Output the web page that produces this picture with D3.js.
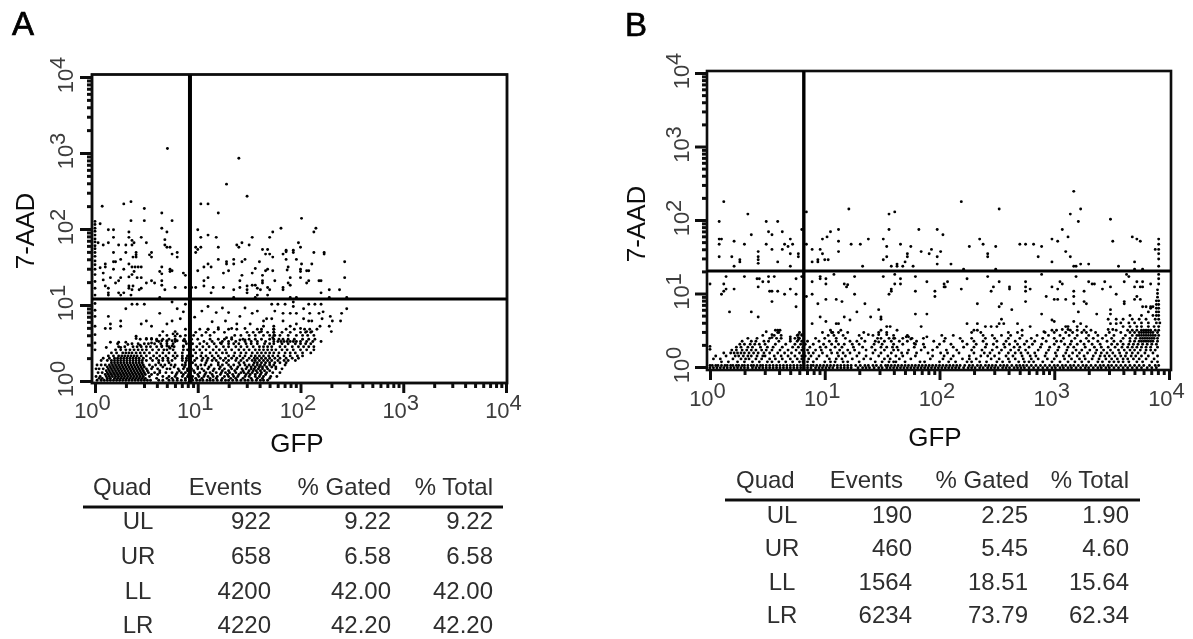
<!DOCTYPE html>
<html>
<head>
<style>
  html, body { margin: 0; background: #fff; }
  svg { display: block; }
  text { font-family: "Liberation Sans", Arial, sans-serif; }
  .axis path { display: none; }
  .axis line { stroke: #111; stroke-width: 3; }
  .tick-label { font-size: 22px; fill: #3c3c3c; }
  .title { font-size: 26px; fill: #111; }
  .letter { font-size: 33px; fill: #000; stroke: #000; stroke-width: .7; }
  .cell { font-size: 24px; fill: #2e2e2e; }
</style>
<script src="https://d3js.org/d3.v7.min.js"></script>
</head>
<body>
<svg width="1193" height="639"></svg>
<script>
// tick decades and table text
var decades = [0, 1, 2, 3, 4];
var tableHead = ["Quad", "Events", "% Gated", "% Total"];
var quadNames = ["UL", "UR", "LL", "LR"];
var eventsA = ["922", "658", "4200", "4220"];
var gatedA = ["9.22", "6.58", "42.00", "42.20"];
var totalA = ["9.22", "6.58", "42.00", "42.20"];
var eventsB = ["190", "460", "1564", "6234"];
var gatedB = ["2.25", "5.45", "18.51", "73.79"];
var totalB = ["1.90", "4.60", "15.64", "62.34"];

// quadrant gates, GFP and 7-AAD
var gateA = [8.4, 12];
var gateB = [6.57, 20.2];

// events, as log10 [GFP, 7-AAD]
var sparseA = [[.705,3.06],[1.4,2.93],[1.28,2.59],[1.48,2.43],[.07,2.3],[.28,2.33],[.35,2.36],[1.03,2.33],[1.1,2.33],[.48,2.27],[.65,2.21],[1.2,2.21],[2.01,2.14],[.35,2.11],[.48,2.11],[.75,2.11],[.05,2.07],[.65,2.01],[1.81,2.01],[2.15,2.01],[.13,1.99],[.18,1.99],[.33,1.96],[.7,1.96],[1,1.99],[2.13,1.96],[1.73,1.96],[.18,1.89],[.33,1.89],[.45,1.89],[1.03,1.89],[1.1,1.92],[1.18,1.89],[1.53,1.89],[1.7,1.89],[.68,1.86],[.03,1.82],[.13,1.82],[.5,1.82],[.08,1.79],[.23,1.79],[.3,1.79],[.36,1.85],[.36,1.79],[.38,1.82],[.68,1.79],[.7,1.76],[.73,1.76],[1.38,1.79],[1.4,1.76],[1.43,1.82],[1.5,1.79],[1.98,1.82],[2,1.76],[1.2,1.76],[.92,1.76],[.98,1.76],[1,1.73],[1.03,1.76],[.98,1.69],[1.63,1.73],[1.68,1.73],[1.86,1.72],[1.86,1.7],[1.93,1.72],[1.93,1.69],[.18,1.69],[.3,1.69],[.55,1.69],[.53,1.66],[.55,1.63],[.8,1.69],[.8,1.63],[1.66,1.67],[1.7,1.67],[1.73,1.63],[1.83,1.67],[.75,1.67],[2.13,1.69],[2.23,1.69],[2.23,1.67],[.4,1.69],[.4,1.66],[.37,1.63],[.4,1.63],[.25,1.6],[.18,1.57],[.2,1.57],[1.2,1.6],[1.35,1.6],[1.35,1.54],[1.28,1.57],[1.28,1.54],[1.46,1.6],[1.43,1.57],[1.6,1.57],[1.86,1.6],[1.96,1.6],[2.01,1.54],[2.11,1.54],[2.43,1.57],[.1,1.54],[.1,1.5],[.05,1.49],[.33,1.54],[.36,1.5],[.39,1.5],[.42,1.5],[.45,1.5],[.18,1.47],[.28,1.47],[.65,1.5],[1.06,1.5],[1.1,1.54],[1.13,1.5],[1.88,1.5],[1.87,1.46],[1.56,1.48],[.63,1.44],[.65,1.41],[.73,1.47],[.73,1.44],[.75,1.45],[1,1.45],[1.25,1.42],[1.3,1.45],[1.66,1.45],[1.68,1.47],[1.73,1.45],[1.53,1.42],[2,1.47],[2,1.44],[2.06,1.45],[2.08,1.45],[.08,1.42],[.38,1.44],[.36,1.4],[.33,1.37],[.86,1.42],[.88,1.39],[.15,1.36],[.08,1.33],[.25,1.36],[.23,1.32],[.2,1.29],[.41,1.36],[.45,1.36],[1.06,1.32],[1.1,1.36],[1.43,1.39],[1.63,1.39],[1.63,1.32],[1.63,1.29],[1.75,1.32],[1.9,1.36],[1.88,1.29],[1.9,1.26],[2,1.36],[2.08,1.32],[2.06,1.29],[2.18,1.32],[2.2,1.32],[2.43,1.36],[.5,1.29],[.55,1.32],[.58,1.29],[.65,1.32],[.65,1.26],[1.41,1.32],[.1,1.25],[.13,1.22],[.33,1.25],[.37,1.25],[.33,1.22],[.36,1.2],[.45,1.22],[.43,1.2],[.78,1.23],[.88,1.23],[.94,1.23],[.98,1.23],[1.06,1.25],[1.15,1.23],[1.25,1.23],[1.35,1.2],[1.41,1.23],[1.48,1.25],[1.53,1.26],[1.56,1.26],[1.58,1.22],[1.61,1.2],[1.48,1.2],[1.48,1.16],[1.68,1.23],[1.7,1.2],[1.83,1.23],[1.83,1.2],[.13,1.16],[.13,1.13],[.23,1.16],[.25,1.13],[.28,1.16],[.35,1.13],[.68,1.2],[1.13,1.16],[2.2,1.16],[2.28,1.2],[2.38,1.2],[1.35,1.1],[1.58,1.13],[1.56,1.1],[1.68,1.13],[1.9,1.1],[1.96,1.1],[2.28,1.1],[2.45,1.1],[.63,1.1],
[0,2.1],[0,2.06],[0,2.01],[0,1.97],[0,1.92],[0,1.87],[0,1.83],[0,1.78],[0,1.74],[0,1.69],[0,1.64],[0,1.58],[0,1.53],[0,1.47],[0,1.4],[0,1.31],[0,1.22],[0,1.13],[0,1.02],[0,.93],[0,.85],[0,.72],[0,.61],[0,.5],
[.36,1.01],[.41,1.01],[.48,1.01],[.75,1.04],[.88,1.01],[.3,.95],[.8,.95],[.86,.91],[.63,.89],[.13,.85],[.15,.75],[.25,.79],[.25,.72],[.45,.75],[.5,.79],[.55,.72],[.7,.75],[.75,.79],[.83,.82],[.1,.69],[.15,.69],[.63,.6],[.66,.65],[.7,.6],[.78,.65],[.76,.62],[.8,.62],[.83,.59],[.78,.59],[.4,.56],[.4,.59],[.5,.56],[.55,.56],[.55,.5],[.15,.51],[.23,.51],[.3,.51],[.11,.44],[.25,.44],[.32,.48],[.44,.47],[.6,.53],[.65,.53],[.65,.46],[.7,.53],[.75,.53],[.7,.46],[.75,.46],[.73,.43],[.8,.53],[.86,.53],[.86,.46],[0,.41],
[1.72,1.01],[1.78,1.01],[1.85,1.01],[1.93,1.04],[1.93,.98],[2.08,1.01],[2.14,1.01],[2.2,1.01],[1.75,.92],[1.83,.89],[1.9,.89],[1.96,.89],[2.03,.95],[2.09,.89],[2.18,.89],[2.22,.91],[2.29,.85],[2.4,.89],[2.45,.95],[1.41,.85],[1.53,.89],[1.67,.82],[1.72,.82],[1.64,.79],[1.51,.75],[1.83,.79],[1.9,.72],[1.96,.75],[2.03,.82],[2.08,.79],[2.11,.79],[2.21,.82],[2.31,.79],[2.39,.79],[1.27,.79],[1.38,.75],[1.33,.69],[1.46,.69],[1.64,.72],[1.62,.65],[1.74,.72],[2.19,.72],[2.28,.72],[2.3,.65],[2.11,.65],[2.06,.65],[2,.69],[1.22,.5],[1.28,.57],[1.33,.57],[1.41,.54],[1.46,.54],[1.74,.68],[1.74,.64],[1.75,.6],[1.73,.57],[1.04,.92],[1.1,.98],[1.18,.9],[1.24,.96],[.97,.84],[1.14,.78],[1.3,.9],[1.46,.96],[1.58,.92],[1.2,.7],[1.1,.68]];

// the dense lower part of panel A, row by row: [7-AAD, [GFP, ...]]
var rowsA = [
[.01,[.02,.06,.09,.12,.15,.18,.21,.24,.27,.3,.33,.36,.39,.42,.45,.48,.51,.54,.62,.66,.72,.76,.8,.84,.88,.92,.95,.99,1.02,1.05,1.09,1.12,1.15,1.19,1.23,1.27,1.3,1.34,1.38,1.42,1.46,1.49,1.53,1.57,1.61,1.64,1.68]],
[.035,[.04,.07,.12,.15,.19,.22,.25,.28,.31,.34,.37,.4,.43,.46,.49,.6,.7,.75,.8,.88,.94,.98,1.04,1.12,1.18,1.24,1.32,1.37,1.44,1.52,1.58,1.63,1.7]],
[.06,[.01,.05,.11,.14,.17,.2,.23,.26,.29,.32,.35,.38,.41,.44,.47,.53,.66,.72,.78,.85,.9,.95,1.01,1.06,1.1,1.15,1.19,1.26,1.3,1.35,1.39,1.46,1.5,1.56,1.6,1.64,1.71,1.77]],
[.085,[.1,.13,.16,.19,.22,.25,.28,.31,.34,.37,.4,.43,.46,.49,.55,.61,.79,.86,.91,1.0,1.07,1.14,1.22,1.29,1.34,1.4,1.47,1.51,1.56,1.61,1.66]],
[.11,[.03,.07,.12,.15,.18,.21,.24,.27,.3,.33,.36,.39,.42,.45,.48,.52,.58,.63,.69,.75,.8,.84,.88,.92,.97,1.02,1.08,1.12,1.18,1.23,1.27,1.31,1.37,1.42,1.45,1.49,1.53,1.58,1.62,1.67,1.73,1.8]],
[.135,[.11,.14,.17,.2,.23,.26,.29,.32,.35,.38,.41,.44,.47,.51,.63,.82,.9,.96,1.06,1.15,1.24,1.3,1.36,1.44,1.5,1.54,1.57,1.61,1.65,1.7]],
[.16,[.01,.04,.08,.13,.16,.19,.22,.25,.28,.31,.34,.37,.4,.43,.46,.5,.55,.61,.7,.73,.81,.86,.9,.94,1,1.04,1.1,1.16,1.21,1.26,1.33,1.38,1.43,1.47,1.52,1.55,1.59,1.63,1.68,1.76,1.82]],
[.185,[.12,.15,.18,.21,.24,.27,.3,.33,.36,.39,.42,.45,.48,.56,.66,.77,.87,1.0,1.11,1.22,1.32,1.39,1.48,1.52,1.56,1.6,1.63,1.67,1.72,1.76]],
[.21,[.02,.06,.1,.14,.17,.2,.23,.26,.29,.32,.35,.38,.41,.44,.47,.53,.59,.64,.68,.74,.78,.85,.88,.92,.98,1.03,1.07,1.13,1.2,1.24,1.3,1.35,1.41,1.46,1.5,1.54,1.58,1.61,1.65,1.7,1.74,1.85]],
[.24,[.16,.19,.22,.25,.28,.31,.34,.37,.4,.43,.46,.62,.72,.88,.95,1.08,1.2,1.28,1.4,1.45,1.55,1.58,1.62,1.66,1.7,1.75,1.8,1.86]],
[.27,[.06,.12,.16,.19,.22,.25,.28,.31,.34,.37,.4,.43,.46,.5,.56,.62,.66,.71,.75,.85,.89,.93,.97,1.04,1.09,1.14,1.18,1.25,1.3,1.37,1.42,1.48,1.53,1.56,1.6,1.64,1.68,1.72,1.78,1.84,1.88,1.95]],
[.3,[.08,.14,.19,.22,.25,.28,.31,.34,.37,.4,.43,.47,.54,.6,.66,.71,.78,.85,.89,.93,.99,1.05,1.1,1.16,1.22,1.27,1.33,1.38,1.44,1.5,1.55,1.58,1.62,1.66,1.7,1.75,1.8,1.86,1.92,1.98]],
[.33,[.13,.18,.23,.26,.29,.32,.35,.38,.41,.45,.5,.57,.63,.69,.76,.8,.85,.9,.95,1.03,1.08,1.14,1.2,1.3,1.35,1.41,1.46,1.52,1.56,1.6,1.64,1.69,1.73,1.78,1.84,1.9,1.97,2.02]],
[.37,[.16,.21,.27,.3,.33,.36,.4,.44,.48,.53,.6,.66,.72,.78,.85,.92,.98,1.04,1.12,1.18,1.24,1.28,1.36,1.42,1.47,1.53,1.58,1.62,1.66,1.7,1.74,1.79,1.85,1.9,1.95,2.02,2.1]],
[.41,[.2,.25,.3,.34,.38,.42,.46,.5,.56,.62,.67,.7,.76,.86,.9,.96,1.02,1.08,1.15,1.21,1.27,1.33,1.4,1.45,1.5,1.56,1.6,1.64,1.68,1.72,1.76,1.82,1.87,1.93,2,2.06,2.13]],
[.45,[.23,.29,.37,.41,.45,.5,.54,.6,.65,.72,.77,.86,.92,.99,1.05,1.11,1.18,1.25,1.3,1.37,1.42,1.48,1.54,1.6,1.64,1.68,1.72,1.8,1.85,1.92,1.98,2.03,2.08,2.13]],
[.49,[.22,.36,.42,.48,.52,.58,.64,.7,.76,.89,.95,1.02,1.09,1.16,1.23,1.3,1.35,1.4,1.47,1.52,1.58,1.65,1.7,1.74,1.82,1.88,1.95,2,2.05,2.1]],
[.52,[.62,.7,.78,.88,1.06,1.14,1.24,1.3,1.37,1.46,1.52,1.58,1.66,1.74,1.78,1.81,1.84,1.87,1.9,1.93,1.96,2,2.06,2.12,2.2]],
[.55,[.44,.5,.55,.6,.66,.72,.78,.87,.94,1,1.12,1.2,1.26,1.33,1.44,1.5,1.56,1.62,1.7,1.74,1.79,1.83,1.88,1.94,2.02,2.08,2.14]],
[.6,[.88,.96,1.04,1.12,1.36,1.42,1.5,1.56,1.64,1.7,1.74,1.8,1.88,1.96,2.02,2.07,2.13]],
[.64,[.92,.98,1.08,1.16,1.26,1.48,1.54,1.6,1.68,1.74,1.82,1.9,2,2.05,2.1]],
[.68,[.88,1.02,1.1,1.2,1.3,1.38,1.58,1.62,1.74,1.86,1.94,2.04,2.09,2.16]]
];

var sparseB = [[.12,2.25],[.33,2.08],[.08,1.98],[.49,1.98],[.59,1.98],[1.21,2.15],[1.56,2.08],[1.61,2.11],[.84,2.11],[.8,1.87],[1.12,1.87],[1.05,1.84],[1.02,1.77],[.98,1.74],[1.56,1.87],[1.82,1.87],[1.98,1.87],[.36,1.8],[.51,1.84],[.54,1.8],[.63,1.84],[2.03,1.8],[.08,1.74],[.1,1.74],[.7,1.74],[1.51,1.74],[.21,1.71],[1.12,1.71],[.08,1.67],[.3,1.67],[.49,1.67],[.65,1.67],[.72,1.67],[.68,1.64],[.84,1.67],[1.23,1.67],[1.31,1.67],[1.38,1.74],[1.66,1.67],[1.54,1.64],[1.75,1.64],[.54,1.6],[.63,1.6],[.42,1.57],[.7,1.54],[.77,1.54],[.77,1.5],[.89,1.6],[.96,1.6],[.98,1.54],[1.12,1.57],[1.84,1.57],[1.93,1.6],[1.91,1.54],[2.01,1.57],[1.98,1.5],[1.72,1.54],[1.72,1.5],[.08,1.5],[.19,1.5],[.26,1.46],[.26,1.43],[.42,1.5],[.42,1.46],[.42,1.41],[.59,1.43],[.21,1.37],[.7,1.37],[.89,1.43],[.94,1.46],[.94,1.43],[1,1.46],[1.03,1.46],[1.54,1.5],[1.51,1.46],[1.7,1.43],[1.63,1.4],[1.58,1.37],[1.63,1.37],[1.68,1.37],[1.77,1.37],[1.98,1.4],[1.33,1.37],
[.14,1.23],[.3,1.23],[.41,1.2],[.43,1.2],[.51,1.23],[.56,1.23],[.46,1.16],[.51,1.16],[.75,1.2],[.8,1.23],[0,1.13],[.12,1.13],[.21,1.06],[.42,1.09],[.14,1.06],[.12,1.03],[.1,.99],[.7,1.06],[.75,.99],[.65,.99],[.52,1.03],[.54,1.03],[.59,1.03],[.54,.89],[.75,.82],[.17,.75],[.36,.75],[.42,.68],[1.08,1.26],[.96,1.23],[.96,1.2],[1.01,1.2],[1.01,1.13],[1.26,1.23],[.89,1.16],[.89,.99],[.84,.96],[1.17,1.13],[1.19,1.09],[1.2,1.12],[1.26,.99],[1.01,.92],[1.1,.92],[1.15,.89],[.94,.86],[1.51,1.23],[1.61,1.26],[1.66,1.2],[1.61,1.13],[1.66,1.13],[1.58,1.06],[1.58,1.03],[1.56,.99],[1.79,1.23],[1.89,1.16],[1.79,1.03],[1.96,1.03],[1.96,.96],[1.35,.86],[1.28,.75],[1.47,.78],[1.4,.68],[1.49,.68],[1.49,.65],[1.17,.68],[1.22,.64],[.96,.68],[1.01,.62],[.89,.59],[1.79,.72],[1.89,.72],[1.84,.55],[1.89,.41],[2.04,1.13],[2.04,1.09],
[.49,.48],[.57,.5],[.59,.5],[.61,.5],[.59,.47],[.54,.44],[.54,.4],[.7,.41],[.7,.38],[.77,.44],[.8,.44],[.77,.4],[.77,.37],[0,.28],[0,.24],[1.12,.59],[1.1,.59],[1.05,.5],[1.07,.47],[1.14,.5],[1.12,.47],[1.54,.55],[1.57,.55],[1.49,.5],[1.54,.47],[1.54,.44],[1.63,.5],[1.61,.39],[1.38,.44],[1.47,.44],[1.49,.39],[1.47,.34],[1.71,.41],[1.73,.41],[1.75,.38],[1.78,.32],
[2.19,2.25],[2.52,2.15],[3.17,2.39],[3.14,2.08],[3.23,2.15],[3.21,1.98],[3.49,2.01],[2.35,1.74],[2.38,1.67],[2.26,1.64],[2.49,1.64],[3.07,1.87],[3.12,1.77],[2.98,1.74],[3.03,1.71],[2.7,1.67],[2.75,1.67],[2.82,1.67],[2.89,1.64],[3.51,1.71],[3.68,1.77],[3.72,1.74],[3.75,1.71],[2.42,1.54],[2.42,1.5],[2.86,1.5],[3.1,1.57],[3.14,1.5],[2.98,1.43],[2.1,1.4],[2.21,1.33],[2.49,1.33],[3.17,1.37],[3.19,1.37],[3.23,1.4],[3.3,1.4],[3.56,1.37],[3.7,1.43],[3.7,1.33],[3.77,1.33],[3.63,1.26],[3.91,1.74],[3.91,1.67],[3.91,1.6],[3.91,1.54],[3.91,1.47],[3.91,1.37],[3.91,1.26],[3.91,1.2],[3.91,1.13],[3.88,1.6],
[2.07,1.16],[2.05,1.09],[2.19,1.06],[2.24,1.2],[2.42,1.23],[2.52,1.16],[2.47,1.09],[2.45,1.03],[2.61,1.09],[2.61,1.06],[2.75,1.16],[2.75,1.09],[2.75,1.03],[2.79,1.06],[2.89,1.26],[2.98,1.09],[3.03,1.06],[3.05,1.16],[3.07,1.13],[2.93,.96],[3,.92],[3.03,.92],[3.1,.92],[2.75,.89],[3.19,1.23],[3.17,1.03],[3.17,.96],[3.26,1.03],[3.17,.86],[3.26,.89],[3.28,.86],[3.21,.75],[3.3,1.16],[3.33,1.13],[3.35,1.13],[3.44,1.16],[3.42,1.06],[3.49,1.09],[3.54,.99],[3.61,1.16],[3.61,.89],[3.61,.86],[3.65,1.23],[3.72,1.16],[3.77,1.16],[3.7,1.09],[3.75,1.09],[3.77,1.09],[3.84,1.13],[3.7,.92],[3.72,.96],[3.75,.92],[3.77,.82],[3.8,.82],[3.84,.82],[3.86,.82],[2.33,.86],[2.52,.82],[2.54,.86],[2.63,.78],[2.89,.72],[3.37,.72],[3.49,.78],[3.47,.65],[3.54,.65],[3.49,.72],[3.17,.62],[2.98,.64],[3,.62],[2.54,.65],[2.52,.59],[2.56,.59],[2.68,.59],[2.24,.59],[2.33,.59],[2.45,.55],[2.79,.55],[2.91,.48],[3.23,.59],[3.28,.55],[3.1,.55],[3.07,.51],[3.12,.51],[3.49,.59],[3.54,.59],[3.47,.51],[3.51,.51]];

var rowsB = [
[-.01,[0,.03,.06,.09,.12,.15,.18,.21,.24,.27,.3,.33,.37,.4,.43,.46,.49,.52,.55,.58,.61,.64,.67,.7,.73,.76,.79,.82,.85,.88,.92,.95,.98,1.01,1.04,1.07,1.11,1.14,1.17,1.2,1.23,1.29,1.33,1.36,1.39,1.43,1.47,1.5,1.54,1.57,1.6,1.63,1.66,1.69,1.72,1.75,1.78,1.81,1.84,1.87,1.9,1.93,1.96,1.99,2.02,2.05,2.08,2.11,2.14,2.17,2.21,2.25,2.28,2.31,2.35,2.38,2.42,2.45,2.48,2.51,2.55,2.58,2.61,2.65,2.68,2.71,2.74,2.78,2.82,2.86,2.9,2.94,2.98,3.01,3.05,3.08,3.12,3.15,3.19,3.23,3.27,3.3,3.34,3.38,3.41,3.45,3.48,3.52,3.56,3.6,3.64,3.68,3.72,3.76,3.81,3.85,3.89]],
[.02,[0,.02,.05,.07,.1,.13,.15,.18,.2,.23,.25,.28,.3,.33,.36,.38,.41,.44,.46,.49,.52,.55,.58,.61,.64,.67,.7,.73,.76,.79,.82,.85,.88,.9,.93,.96,.99,1.02,1.05,1.08,1.11,1.14,1.17,1.2,1.23,1.27,1.31,1.35,1.38,1.42,1.45,1.49,1.53,1.55,1.58,1.61,1.64,1.67,1.7,1.73,1.76,1.79,1.82,1.85,1.88,1.91,1.94,1.97,2,2.03,2.06,2.09,2.12,2.15,2.18,2.22,2.26,2.29,2.33,2.36,2.4,2.43,2.46,2.49,2.53,2.56,2.59,2.63,2.67,2.7,2.73,2.76,2.8,2.84,2.88,2.92,2.96,3,3.03,3.07,3.1,3.14,3.17,3.21,3.25,3.28,3.32,3.36,3.4,3.43,3.47,3.5,3.54,3.58,3.62,3.66,3.7,3.74,3.78,3.83,3.88,3.91]],
[.07,[.1,.16,.24,.3,.37,.43,.5,.54,.6,.66,.72,.78,.81,.85,.9,1,1.05,1.09,1.16,1.2,1.3,1.44,1.5,1.56,1.6,1.62,1.7,1.83,1.87,2,2.08,2.14,2.24,2.28,2.35,2.41,2.5,2.55,2.61,2.69,2.74,2.78,2.82,2.9,2.98,3.05,3.12,3.18,3.24,3.3,3.38,3.42,3.48,3.52,3.56,3.6,3.65,3.72,3.77,3.85,3.9]],
[.11,[.03,.09,.2,.27,.31,.34,.4,.45,.52,.57,.63,.7,.76,.8,.86,.93,1.04,1.1,1.15,1.24,1.34,1.4,1.52,1.57,1.65,1.75,1.92,2.03,2.1,2.2,2.26,2.32,2.45,2.52,2.6,2.66,2.73,2.8,2.86,2.94,3,3.09,3.15,3.22,3.27,3.33,3.39,3.45,3.5,3.55,3.6,3.64,3.69,3.74,3.8,3.87]],
[.15,[.05,.14,.22,.25,.29,.33,.36,.41,.46,.48,.56,.62,.68,.74,.8,.83,.88,.95,1.02,1.12,1.18,1.28,1.36,1.47,1.55,1.62,1.68,1.79,1.94,2.04,2.12,2.26,2.36,2.42,2.48,2.58,2.64,2.72,2.79,2.84,2.92,3.02,3.08,3.13,3.2,3.26,3.34,3.4,3.44,3.48,3.53,3.58,3.62,3.67,3.71,3.76,3.82,3.9]],
[.19,[.12,.18,.21,.24,.27,.3,.34,.38,.42,.47,.52,.59,.65,.71,.78,.82,.86,.9,.98,1.06,1.11,1.16,1.22,1.3,1.42,1.49,1.58,1.67,1.72,1.8,1.9,2.01,2.07,2.17,2.3,2.39,2.44,2.52,2.6,2.66,2.71,2.77,2.83,2.93,3.01,3.1,3.16,3.22,3.29,3.36,3.41,3.46,3.51,3.57,3.63,3.68,3.73,3.79,3.86]],
[.23,[.19,.23,.28,.32,.36,.4,.45,.49,.54,.61,.68,.75,.8,.85,.92,.97,1.05,1.13,1.2,1.26,1.36,1.44,1.52,1.6,1.64,1.73,1.84,1.94,2.06,2.15,2.28,2.37,2.46,2.54,2.62,2.69,2.75,2.86,2.95,3.03,3.11,3.19,3.24,3.31,3.37,3.43,3.49,3.56,3.61,3.66,3.7,3.75,3.8,3.84,3.88]],
[.27,[.23,.27,.33,.37,.44,.5,.55,.63,.72,.77,.81,.87,.96,1.01,1.09,1.15,1.25,1.33,1.41,1.49,1.54,1.59,1.63,1.78,1.87,1.98,2.12,2.21,2.3,2.4,2.5,2.57,2.65,2.7,2.78,2.88,2.96,3.04,3.12,3.17,3.27,3.35,3.41,3.47,3.53,3.59,3.64,3.68,3.72,3.76,3.8,3.84,3.9]],
[.31,[.26,.3,.35,.39,.43,.48,.57,.66,.74,.79,.83,.9,.99,1.06,1.12,1.17,1.24,1.3,1.43,1.5,1.6,1.68,1.79,1.86,2,2.1,2.24,2.32,2.41,2.47,2.56,2.61,2.68,2.74,2.81,2.89,3,3.09,3.14,3.2,3.26,3.33,3.4,3.5,3.55,3.6,3.65,3.69,3.73,3.77,3.81,3.85,3.89]],
[.35,[.28,.36,.4,.47,.51,.6,.7,.76,.8,.85,.95,1.04,1.1,1.22,1.28,1.35,1.44,1.52,1.58,1.65,1.72,1.8,1.95,2.04,2.2,2.3,2.38,2.5,2.58,2.66,2.76,2.83,2.93,3.02,3.06,3.15,3.23,3.3,3.38,3.46,3.52,3.58,3.66,3.7,3.74,3.76,3.78,3.8,3.82,3.84,3.86,3.9]],
[.39,[.33,.41,.52,.58,.62,.74,.78,.92,1,1.1,1.18,1.32,1.46,1.56,1.6,1.68,1.76,1.86,2.05,2.18,2.28,2.4,2.48,2.6,2.7,2.8,2.9,3,3.08,3.18,3.28,3.34,3.42,3.5,3.6,3.66,3.71,3.75,3.77,3.79,3.81,3.83,3.85,3.87,3.9]],
[.43,[.46,.56,.62,.76,.8,1.03,1.08,1.16,1.3,1.42,1.6,1.72,2.02,2.12,2.38,2.46,2.54,2.62,2.72,2.85,2.95,3.05,3.13,3.2,3.3,3.38,3.45,3.52,3.62,3.68,3.72,3.74,3.76,3.78,3.8,3.82,3.84,3.86,3.88,3.91]],
[.47,[.6,.78,.98,1.06,1.2,1.34,1.47,2.28,2.36,2.6,2.68,2.92,3,3.1,3.16,3.24,3.28,3.36,3.48,3.58,3.66,3.7,3.74,3.76,3.78,3.8,3.82,3.84,3.86,3.9]],
[.5,[2.3,2.33,2.72,2.98,3.02,3.14,3.2,3.26,3.32,3.54,3.64,3.68,3.72,3.76,3.78,3.8,3.82,3.84,3.88,3.91]],
[.55,[2.4,2.5,3.12,3.2,3.6,3.66,3.72,3.76,3.82,3.87,3.91]],
[.6,[3.58,3.65,3.7,3.76,3.82,3.89,3.92]],
[.65,[3.6,3.68,3.74,3.8,3.88,3.91]],
[.7,[3.66,3.76,3.86,3.89,3.91]],
[.75,[3.82,3.89,3.91]],
[.8,[3.84,3.89,3.91]],
[.85,[3.89,3.91]],
[.9,[3.89,3.91]],
[.95,[3.9]],
[1,[3.9]],
[1.05,[3.9]]
];

var svg = d3.select("svg");
var page = svg.append("g").attr("filter", "url(#soft)");
var soft = svg.append("defs").append("filter").attr("id", "soft");
soft.append("feGaussianBlur").attr("stdDeviation", 0.4);

var minorValues = [];
decades.slice(0, -1).forEach(function(d) {
    d3.range(2, 10).forEach(function(m) { minorValues.push(m * Math.pow(10, d)); });
});
var majorValues = decades.map(function(d) { return Math.pow(10, d); });

function decadeLabel(g, d) {
    g.append("tspan").text("10");
    g.append("tspan").attr("dy", -8).text(d);
}

function drawPanel(p) {
    var x = d3.scaleLog().domain([1, 1e4]).range(p.xRange);
    var y = d3.scaleLog().domain([1, 1e4]).range(p.yRange);
    var g = page.append("g");

    var events = p.sparse.slice();
    p.rows.forEach(function(r) {
        r[1].forEach(function(gfp) { events.push([gfp, r[0]]); });
    });

    g.selectAll("circle").data(events).join("circle")
        .attr("cx", function(d) { return x(Math.pow(10, d[0])); })
        .attr("cy", function(d) { return y(Math.pow(10, d[1])); })
        .attr("r", 1.45)
        .attr("fill", "#000");

    // minor then major ticks, both sit on the frame
    var bottom = g.append("g").attr("class", "axis").attr("transform", "translate(0," + p.frame.bottom + ")");
    bottom.append("g").call(d3.axisBottom(x).tickValues(minorValues).tickSize(p.minor).tickFormat(""));
    bottom.append("g").call(d3.axisBottom(x).tickValues(majorValues).tickSize(p.major).tickFormat(""));
    var left = g.append("g").attr("class", "axis").attr("transform", "translate(" + p.frame.left + ",0)");
    left.append("g").call(d3.axisLeft(y).tickValues(minorValues).tickSize(p.minor).tickFormat(""));
    left.append("g").call(d3.axisLeft(y).tickValues(majorValues).tickSize(p.major + 2).tickFormat(""));

    g.append("rect")
        .attr("x", p.frame.left).attr("y", p.frame.top)
        .attr("width", p.frame.right - p.frame.left)
        .attr("height", p.frame.bottom - p.frame.top)
        .attr("fill", "none").attr("stroke", "#111").attr("stroke-width", p.frameWidth);

    // quadrant gates
    g.append("line")
        .attr("x1", x(p.gate[0])).attr("x2", x(p.gate[0]))
        .attr("y1", p.frame.top).attr("y2", p.frame.bottom)
        .attr("stroke", "#000").attr("stroke-width", p.gateWidth);
    g.append("line")
        .attr("x1", p.frame.left).attr("x2", p.frame.right)
        .attr("y1", y(p.gate[1])).attr("y2", y(p.gate[1]))
        .attr("stroke", "#000").attr("stroke-width", 3);

    decades.forEach(function(d) {
        var t = g.append("text").attr("class", "tick-label")
            .attr("text-anchor", "middle")
            .attr("x", x(Math.pow(10, d)) - 2.5).attr("y", p.xLabelY);
        decadeLabel(t, d);
        var r = g.append("text").attr("class", "tick-label")
            .attr("text-anchor", "middle")
            .attr("transform", "translate(" + p.yLabelX + "," + (y(Math.pow(10, d)) - 2) + ") rotate(-90)");
        decadeLabel(r, d);
    });

    g.append("text").attr("class", "title").attr("text-anchor", "middle")
        .attr("x", p.xTitle[0]).attr("y", p.xTitle[1]).text("GFP");
    g.append("text").attr("class", "title").attr("text-anchor", "middle")
        .attr("transform", "translate(" + p.yTitle[0] + "," + p.yTitle[1] + ") rotate(-90)").text("7-AAD");
    g.append("text").attr("class", "letter").attr("x", p.letter[0]).attr("y", p.letter[1]).text(p.name);

    // stats table
    var tb = p.table;
    tableHead.forEach(function(h, i) {
        g.append("text").attr("class", "cell")
            .attr("text-anchor", i == 0 ? "start" : "end")
            .attr("x", tb.head[i]).attr("y", tb.headY).text(h);
    });
    g.append("line")
        .attr("x1", tb.rule[0]).attr("x2", tb.rule[1])
        .attr("y1", tb.ruleY).attr("y2", tb.ruleY)
        .attr("stroke", "#111").attr("stroke-width", 3);
    quadNames.forEach(function(q, i) {
        var yy = tb.rowY[i];
        g.append("text").attr("class", "cell").attr("text-anchor", "middle")
            .attr("x", tb.cols[0]).attr("y", yy).text(q);
        g.append("text").attr("class", "cell").attr("text-anchor", "end")
            .attr("x", tb.cols[1]).attr("y", yy).text(p.events[i]);
        g.append("text").attr("class", "cell").attr("text-anchor", "end")
            .attr("x", tb.cols[2]).attr("y", yy).text(p.gated[i]);
        g.append("text").attr("class", "cell").attr("text-anchor", "end")
            .attr("x", tb.cols[3]).attr("y", yy).text(p.total[i]);
    });
}

drawPanel({
    name: "A", sparse: sparseA, rows: rowsA, gate: gateA,
    events: eventsA, gated: gatedA, total: totalA,
    xRange: [95, 506], yRange: [381, 77],
    frame: { left: 92, right: 507, top: 74.5, bottom: 383 },
    frameWidth: 2.8, gateWidth: 4, minor: 5, major: 10,
    xLabelY: 418, yLabelX: 73,
    xTitle: [297, 452], yTitle: [34, 231], letter: [12, 35],
    table: {
        head: [93, 262, 391, 493], headY: 495,
        rule: [83, 503], ruleY: 507,
        cols: [138, 271, 391, 493], rowY: [529, 564, 599, 633]
    }
});

drawPanel({
    name: "B", sparse: sparseB, rows: rowsB, gate: gateB,
    events: eventsB, gated: gatedB, total: totalB,
    xRange: [710, 1169], yRange: [367, 73],
    frame: { left: 707, right: 1171, top: 71, bottom: 370 },
    frameWidth: 2.6, gateWidth: 3.4, minor: 5, major: 10,
    xLabelY: 406, yLabelX: 689,
    xTitle: [935, 446], yTitle: [645, 224], letter: [625, 36],
    table: {
        head: [736, 903, 1029, 1129], headY: 488,
        rule: [725, 1140], ruleY: 500,
        cols: [782, 912, 1028, 1129], rowY: [523, 556, 590, 623]
    }
});
</script>
</body>
</html>
